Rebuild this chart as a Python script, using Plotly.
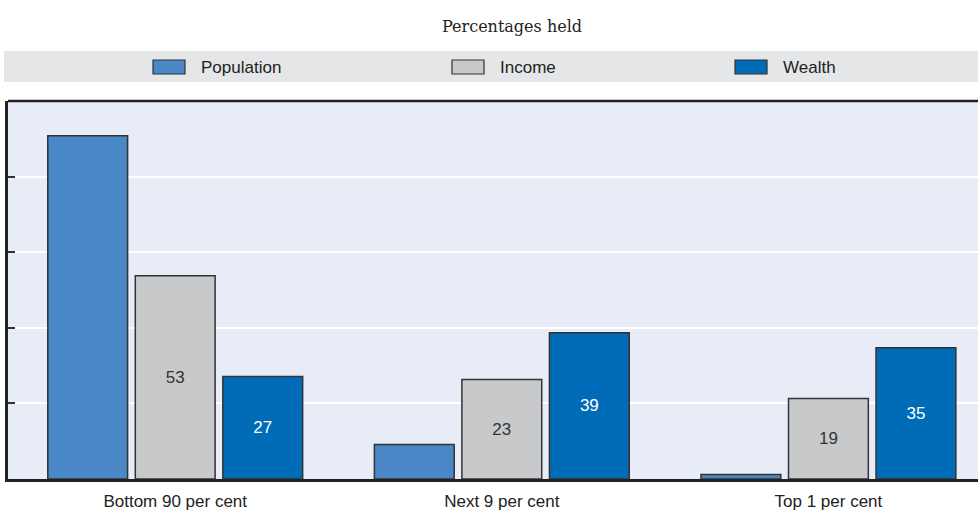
import plotly.graph_objects as go

# ---- data ----
categories = ["Bottom 90 per cent", "Next 9 per cent", "Top 1 per cent"]
series_names = ["Population", "Income", "Wealth"]
population = [90.8, 9.1, 1.2]
income = [53.8, 26.3, 21.3]
wealth = [27.1, 38.7, 34.7]
income_labels = ["53", "23", "19"]
wealth_labels = ["27", "39", "35"]
y_ticks = [0, 20, 40, 60, 80, 100]

colors = ["#4A87C6", "#C8C9CB", "#006CB7"]
text_colors = ["#FFFFFF", "#333333", "#FFFFFF"]
SANS = "Liberation Sans, Arial, sans-serif"

W, H = 978, 511
ML, MR, MT, MB = 8, 0, 101, 32
PW, PH = W - ML - MR, H - MT - MB


def px_x(x):
    return (x - ML) / PW


def px_y(y):
    return (H - MB - y) / PH


fig = go.Figure()
values = [population, income, wealth]
labels = [None, income_labels, wealth_labels]
for i, name in enumerate(series_names):
    fig.add_trace(go.Bar(
        name=name, x=categories, y=values[i],
        marker=dict(color=colors[i], line=dict(color="#333333", width=1.5)),
        text=labels[i], textposition="inside" if labels[i] else "none",
        insidetextanchor="middle",
        textfont=dict(family=SANS, size=17, color=text_colors[i]),
        textangle=0, showlegend=False, cliponaxis=False,
    ))

# custom legend band
shapes = [dict(type="rect", xref="paper", yref="paper",
               x0=px_x(4), x1=px_x(978), y0=px_y(82), y1=px_y(51),
               fillcolor="#E5E6E8", line=dict(width=0), layer="below"),
          dict(type="line", xref="paper", yref="paper",
               x0=0, x1=1, y0=1, y1=1, line=dict(color="#222222", width=2.5))]
annotations = []
swatch_x = [153, 452, 735]
for i, name in enumerate(series_names):
    sx = swatch_x[i]
    shapes.append(dict(type="rect", xref="paper", yref="paper",
                       x0=px_x(sx), x1=px_x(sx + 32), y0=px_y(74), y1=px_y(60),
                       fillcolor=colors[i], line=dict(color="#333333", width=1.2)))
    annotations.append(dict(xref="paper", yref="paper", x=px_x(sx + 46), y=px_y(67.5),
                            text=name, showarrow=False, xanchor="left", yanchor="middle",
                            font=dict(family=SANS, size=17, color="#222222")))

annotations.append(dict(xref="paper", yref="paper", x=px_x(512), y=px_y(26),
                        text="Percentages held", showarrow=False,
                        xanchor="center", yanchor="middle",
                        font=dict(family="DejaVu Serif", size=16, color="#222222")))

fig.update_layout(
    width=W, height=H,
    margin=dict(l=ML, r=MR, t=MT, b=MB, pad=0, autoexpand=False),
    paper_bgcolor="white", plot_bgcolor="#E8ECF7",
    barmode="group", bargap=0.196, bargroupgap=0.088,
    shapes=shapes, annotations=annotations,
    xaxis=dict(range=[-0.512, 2.458], showgrid=False, showline=True,
               linecolor="#222222", linewidth=3, ticks="outside", ticklen=5,
               tickcolor="rgba(0,0,0,0)", automargin=False,
               tickfont=dict(family=SANS, size=17, color="#222222"), fixedrange=True),
    yaxis=dict(range=[0, 100], tickvals=y_ticks, showticklabels=False,
               showgrid=True, gridcolor="white", gridwidth=2,
               showline=True, linecolor="#222222", linewidth=2.5,
               ticks="inside", ticklen=7, tickcolor="#333333", tickwidth=2,
               zeroline=False, fixedrange=True, automargin=False),
)

fig.write_html("out.html")
